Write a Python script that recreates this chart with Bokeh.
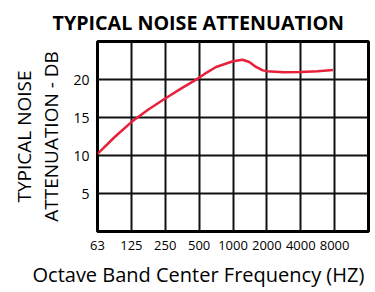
from bokeh.plotting import figure
from bokeh.models import FixedTicker, Range1d, Title
from bokeh.embed import file_html
from bokeh.resources import INLINE

# data
freq_labels = ["63", "125", "250", "500", "1000", "2000", "4000", "8000"]
octave_pos = [0, 1, 2, 3, 4, 5, 6, 7]
grid_x = [0, 1, 2, 3, 4, 5, 6, 7, 8]
y_ticks = [5, 10, 15, 20]
grid_y = [0, 5, 10, 15, 20, 25]
curve_x = [0, 0.5, 1, 1.5, 2, 2.5, 2.9, 3.15, 3.5, 4, 4.28, 4.48, 4.68, 4.88, 5, 5.5, 6, 6.5, 6.95]
curve_y = [10.2, 12.4, 14.4, 16.05, 17.5, 18.9, 19.95, 20.7, 21.65, 22.4, 22.6, 22.3, 21.65, 21.2, 21.1, 20.95, 21.0, 21.1, 21.25]

FONT = "Open Sans"

p = figure(output_backend="svg", toolbar_location=None,
           x_range=Range1d(0, 8), y_range=Range1d(0, 25),
           frame_width=271, frame_height=190,
           min_border_left=97, min_border_right=4, min_border_top=40, min_border_bottom=0,
           title=None)

title = Title(text="TYPICAL NOISE ATTENUATION", align="left", offset=-45,
              text_font=FONT, text_font_style="bold", text_font_size="19.7px",
              text_color="black", standoff=12, text_line_height=0.9)
p.add_layout(title, "above")

p.outline_line_color = "black"
p.outline_line_width = 3
p.outline_line_alpha = 1

p.xgrid.ticker = FixedTicker(ticks=grid_x)
p.ygrid.ticker = FixedTicker(ticks=grid_y)
for g in (p.xgrid, p.ygrid):
    g.grid_line_color = "#111111"
    g.grid_line_width = 2
    g.grid_line_alpha = 1

p.xaxis.ticker = FixedTicker(ticks=octave_pos)
p.xaxis.major_label_overrides = {i: s for i, s in zip(octave_pos, freq_labels)}
p.yaxis.ticker = FixedTicker(ticks=y_ticks)
for ax in (p.xaxis, p.yaxis):
    ax.axis_line_color = None
    ax.major_tick_line_color = None
    ax.minor_tick_line_color = None
    ax.major_tick_out = 0
    ax.major_tick_in = 0
    ax.major_label_text_font = FONT
    ax.major_label_text_color = "black"
    ax.axis_label_text_font = FONT
    ax.axis_label_text_font_size = "19px"
    ax.axis_label_text_font_style = "normal"
    ax.axis_label_text_color = "black"
p.xaxis.major_label_text_font_size = "13px"
p.yaxis.major_label_text_font_size = "14px"

p.yaxis.axis_label = "TYPICAL NOISE\nATTENUATION - DB"
p.yaxis.axis_label_text_line_height = 1.05
p.xaxis.major_label_standoff = 9
p.yaxis.major_label_standoff = 8
p.yaxis.axis_label_standoff = 6

xt = Title(text="Octave Band Center Frequency (HZ)", align="left", offset=-65,
           text_font=FONT, text_font_style="normal", text_font_size="20px",
           text_color="black", standoff=12)
p.add_layout(xt, "below")

p.line(curve_x, curve_y, line_color="#E8203A", line_width=2.5)

open("out.html", "w").write(file_html(p, INLINE))
